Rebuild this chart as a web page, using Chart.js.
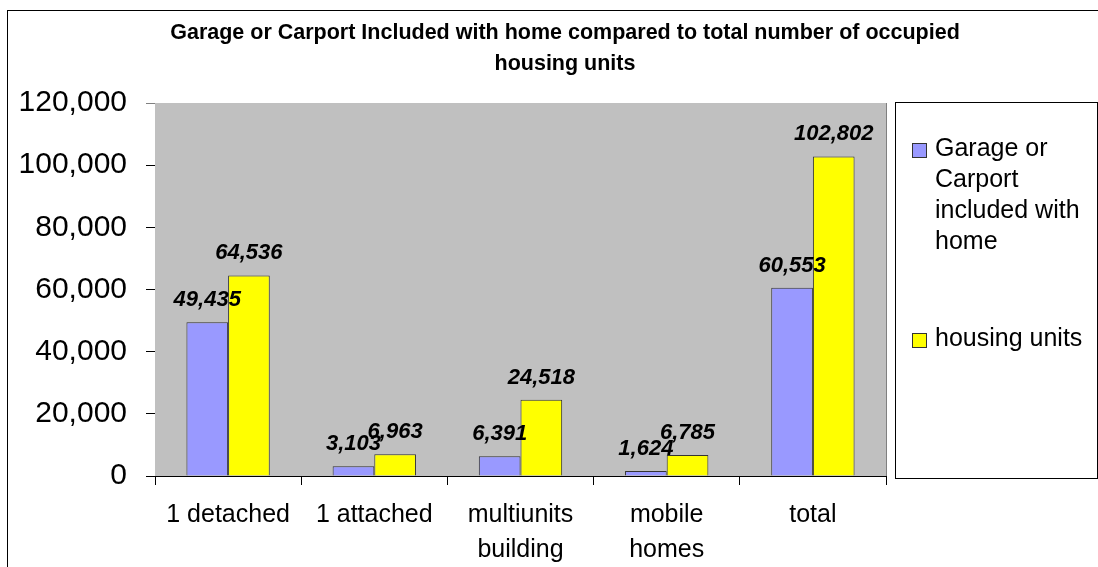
<!DOCTYPE html>
<html>
<head>
<meta charset="utf-8">
<script src="https://cdn.jsdelivr.net/npm/chart.js@4.4.1/dist/chart.umd.min.js"></script>
<style>
    html, body { margin: 0; padding: 0; background: #fff; }
    #wrap { width: 1098px; height: 567px; position: relative; }
</style>
</head>
<body>
<div id="wrap"><canvas id="chart" width="1098" height="567"></canvas></div>
<script>
// 資料
const categories = ['1 detached', '1 attached', ['multiunits', 'building'], ['mobile', 'homes'], 'total'];
const garageValues = [49435, 3103, 6391, 1624, 60553];
const housingValues = [64536, 6963, 24518, 6785, 102802];
const seriesNames = ['Garage or Carport included with home', 'housing units'];
const titleLines = ['Garage or Carport Included with home compared to total number of occupied', 'housing units'];
const yTicks = [0, 20000, 40000, 60000, 80000, 100000, 120000];

const FONT = '"Liberation Sans", Arial, sans-serif';
const fmt = v => v.toLocaleString('en-US');

// 背景、框線、標題、數值標籤、圖例
const decorPlugin = {
    id: 'decor',
    beforeDatasetsDraw(chart) {
        const ctx = chart.ctx;
        const a = chart.chartArea;
        ctx.save();
        ctx.fillStyle = '#c0c0c0';
        ctx.fillRect(a.left, a.top, a.right - a.left, a.bottom - a.top);
        ctx.restore();
    },
    beforeDraw(chart) {
        const ctx = chart.ctx;
        ctx.save();
        ctx.fillStyle = '#fff';
        ctx.fillRect(0, 0, chart.width, chart.height);
        ctx.strokeStyle = '#000';
        ctx.lineWidth = 1;
        ctx.strokeRect(7.5, 10.5, chart.width + 10, chart.height + 10);
        ctx.restore();
    },
    afterDraw(chart) {
        const ctx = chart.ctx;
        const a = chart.chartArea;
        ctx.save();

        // 繪圖區右框
        ctx.strokeStyle = '#808080';
        ctx.lineWidth = 1;
        ctx.beginPath();
        ctx.moveTo(Math.round(a.right) + 0.5, a.top);
        ctx.lineTo(Math.round(a.right) + 0.5, a.bottom);
        ctx.stroke();

        // 標題
        ctx.fillStyle = '#000';
        ctx.font = 'bold 21.5px ' + FONT;
        ctx.textAlign = 'center';
        ctx.textBaseline = 'middle';
        titleLines.forEach((line, i) => ctx.fillText(line, 565, 33 + i * 31));

        // 數值標籤
        ctx.font = 'italic bold 22px ' + FONT;
        ctx.textBaseline = 'alphabetic';
        chart.data.datasets.forEach((ds, di) => {
            const meta = chart.getDatasetMeta(di);
            meta.data.forEach((bar, i) => {
                ctx.fillText(fmt(ds.data[i]), bar.x, bar.y - 16);
            });
        });

        // 圖例
        const box = { left: 895.5, top: 102.5, right: 1097.5, bottom: 478.5 };
        ctx.strokeStyle = '#000';
        ctx.strokeRect(box.left, box.top, box.right - box.left, box.bottom - box.top);
        ctx.font = '25px ' + FONT;
        ctx.textAlign = 'left';
        ctx.textBaseline = 'middle';
        const itemTops = [150, 340];
        chart.data.datasets.forEach((ds, di) => {
            const words = ds.label.split(' ');
            const lines = [];
            let cur = '';
            words.forEach(w => {
                const test = cur ? cur + ' ' + w : w;
                if (cur && ctx.measureText(test).width > 158) {
                    lines.push(cur);
                    cur = w;
                } else {
                    cur = test;
                }
            });
            lines.push(cur);
            const y0 = itemTops[di];
            ctx.fillStyle = ds.backgroundColor;
            ctx.fillRect(912, y0 - 7, 15, 15);
            ctx.strokeStyle = '#333';
            ctx.strokeRect(912.5, y0 - 6.5, 14, 14);
            ctx.fillStyle = '#000';
            lines.forEach((ln, li) => ctx.fillText(ln, 935, y0 - 1 + li * 31));
        });
        ctx.restore();
    }
};

new Chart(document.getElementById('chart'), {
    type: 'bar',
    data: {
        labels: categories,
        datasets: [
            {
                label: seriesNames[0],
                data: garageValues,
                backgroundColor: '#9999ff',
                borderColor: '#333',
                borderWidth: 1
            },
            {
                label: seriesNames[1],
                data: housingValues,
                backgroundColor: '#ffff00',
                borderColor: '#333',
                borderWidth: 1
            }
        ]
    },
    options: {
        responsive: false,
        animation: false,
        events: [],
        layout: { padding: { top: 103, right: 212, bottom: 0, left: 0 } },
        datasets: { bar: { categoryPercentage: 0.57, barPercentage: 1 } },
        plugins: {
            legend: { display: false },
            title: { display: false },
            tooltip: { enabled: false }
        },
        scales: {
            x: {
                offset: true,
                grid: {
                    offset: true,
                    drawOnChartArea: false,
                    drawTicks: true,
                    tickLength: 9,
                    color: '#000'
                },
                border: { color: '#000' },
                ticks: {
                    color: '#000',
                    padding: 12,
                    maxRotation: 0,
                    autoSkip: false,
                    font: { family: FONT, size: 25, lineHeight: 1.42 }
                },
                afterFit(scale) { scale.height = 91; }
            },
            y: {
                min: 0,
                max: 120000,
                afterBuildTicks(scale) { scale.ticks = yTicks.map(v => ({ value: v })); },
                grid: {
                    tickLength: 9,
                    color: ctx => (ctx.tick && ctx.tick.value === 120000 ? '#808080' : '#000')
                },
                border: { color: '#000' },
                ticks: {
                    color: '#000',
                    padding: 19,
                    font: { family: FONT, size: 30 },
                    callback: v => fmt(v)
                },
                afterFit(scale) { scale.width = 155; }
            }
        }
    },
    plugins: [decorPlugin]
});
</script>
</body>
</html>
